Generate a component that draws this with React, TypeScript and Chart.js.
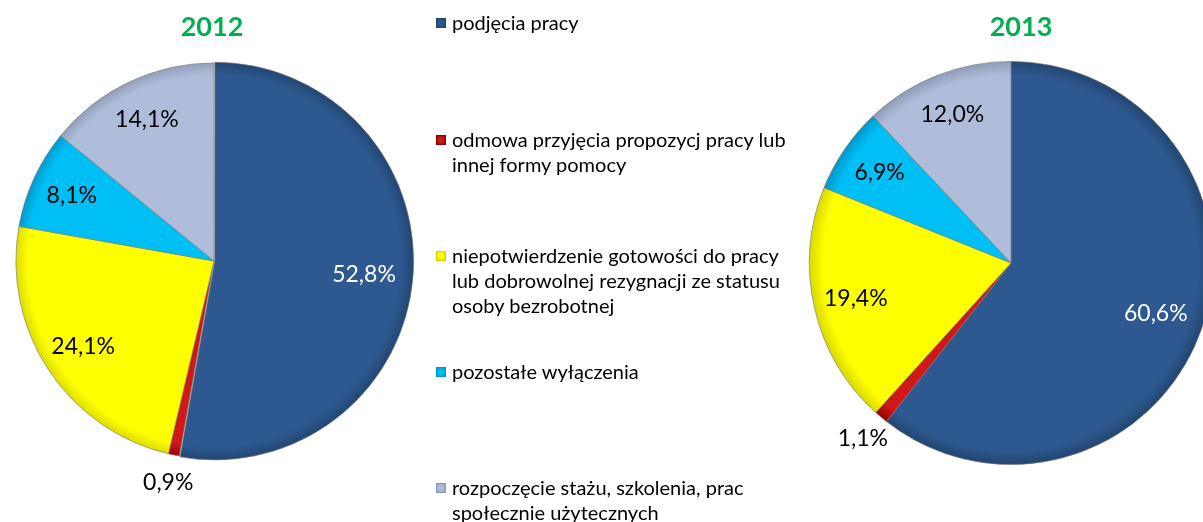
import React, { useEffect, useRef } from "react";
import { Chart, registerables } from "chart.js";

Chart.register(...registerables);

const categories = [
  "podjęcia pracy",
  "odmowa przyjęcia propozycj pracy lub innej formy pomocy",
  "niepotwierdzenie gotowości do pracy lub dobrowolnej rezygnacji ze statusu osoby bezrobotnej",
  "pozostałe wyłączenia",
  "rozpoczęcie stażu, szkolenia, prac społecznie użytecznych",
];
const values2012 = [52.8, 0.9, 24.1, 8.1, 14.1];
const values2013 = [60.6, 1.1, 19.4, 6.9, 12.0];
const years = ["2012", "2013"];

const baseColors = ["#2D5990", "#D01818", "#FFFF00", "#00BFF5", "#AFBDDA"];
const edgeColors = ["#22446F", "#900000", "#D8D800", "#0096C8", "#8E9BB6"];
const labelColors = ["#FFFFFF", "#000000", "#000000", "#000000", "#000000"];

const FONT = "Lato, 'Open Sans', sans-serif";

function fmt(v: number) {
  return v.toFixed(1).replace(".", ",") + "%";
}

const labelPlugin = {
  id: "sliceLabels",
  afterDatasetsDraw(chart: any) {
    const ctx = chart.ctx;
    const meta = chart.getDatasetMeta(0);
    const data = chart.data.datasets[0].data as number[];
    ctx.save();
    ctx.font = `23px ${FONT}`;
    ctx.textAlign = "center";
    ctx.textBaseline = "middle";
    meta.data.forEach((arc: any, i: number) => {
      const p = arc.getProps(["x", "y", "startAngle", "endAngle", "outerRadius"], true);
      const mid = (p.startAngle + p.endAngle) / 2;
      const small = data[i] < 3;
      const f = small ? 1.14 : i === 0 ? 0.76 : 0.79;
      const x = p.x + Math.cos(mid) * p.outerRadius * f;
      const y = p.y + Math.sin(mid) * p.outerRadius * f;
      ctx.fillStyle = small ? "#000000" : labelColors[i];
      ctx.fillText(fmt(data[i]), x, y);
    });
    ctx.restore();
  },
};

const titlePlugin = {
  id: "yearTitle",
  afterDraw(chart: any) {
    const opts = chart.options.plugins.yearTitle;
    if (!opts) return;
    const ctx = chart.ctx;
    ctx.save();
    ctx.font = `bold 27px ${FONT}`;
    ctx.fillStyle = "#00B050";
    ctx.textAlign = "center";
    ctx.textBaseline = "middle";
    ctx.fillText(opts.text, opts.x, opts.y);
    ctx.restore();
  },
};

function sliceBg(c: any) {
  const i = c.dataIndex ?? 0;
  const chart = c.chart;
  const area = chart.chartArea;
  if (!area) return baseColors[i];
  const cx = (area.left + area.right) / 2;
  const cy = (area.top + area.bottom) / 2;
  const r = Math.min(area.right - area.left, area.bottom - area.top) / 2;
  const g = chart.ctx.createRadialGradient(cx, cy, 0, cx, cy, r);
  g.addColorStop(0, baseColors[i]);
  g.addColorStop(0.93, baseColors[i]);
  g.addColorStop(1, edgeColors[i]);
  return g;
}

function PieChart(props: {
  values: number[];
  year: string;
  padding: { left: number; right: number; top: number; bottom: number };
  offsets: number[];
  titleX: number;
  width: number;
  left: number;
}) {
  const ref = useRef<HTMLCanvasElement | null>(null);
  useEffect(() => {
    if (!ref.current) return;
    const chart = new Chart(ref.current, {
      type: "pie",
      data: {
        labels: categories,
        datasets: [
          {
            data: props.values,
            backgroundColor: sliceBg as any,
            borderColor: "rgba(120,120,120,0.8)",
            borderWidth: 0.8,
            offset: props.offsets,
          },
        ],
      },
      options: {
        animation: false,
        responsive: false,
        maintainAspectRatio: false,
        layout: { padding: props.padding },
        plugins: {
          legend: { display: false },
          tooltip: { enabled: false },
          title: { display: false },
          yearTitle: { text: props.year, x: props.titleX, y: 27 },
        } as any,
      },
      plugins: [labelPlugin, titlePlugin],
    });
    return () => chart.destroy();
  }, []);
  return (
    <canvas
      ref={ref}
      width={props.width}
      height={522}
      style={{ position: "absolute", left: props.left, top: 0, width: props.width, height: 522 }}
    />
  );
}

function Marker({ i }: { i: number }) {
  return (
    <span
      style={{
        position: "absolute",
        left: 0,
        top: 8,
        width: 10,
        height: 10,
        background: `radial-gradient(circle, ${baseColors[i]} 40%, ${edgeColors[i]} 100%)`,
        border: `1px solid ${edgeColors[i]}`,
        boxSizing: "border-box",
      }}
    />
  );
}

export default function App() {
  const legendTops = [10, 127, 243, 359, 475];
  return (
    <div
      style={{
        position: "fixed",
        left: 0,
        top: 0,
        width: 1203,
        height: 522,
        overflow: "hidden",
        background: "#ffffff",
      }}
    >
      <PieChart
        values={values2012}
        year={years[0]}
        left={0}
        width={430}
        padding={{ left: 14, right: 16, top: 61, bottom: 61 }}
        offsets={[3, 0, 0, 0, 0]}
        titleX={212}
      />
      <PieChart
        values={values2013}
        year={years[1]}
        left={790}
        width={440}
        padding={{ left: 19, right: 17, top: 61, bottom: 57 }}
        offsets={[0, 0, 0, 0, 0]}
        titleX={231}
      />
      {categories.map((c, i) => (
        <div
          key={c}
          style={{
            position: "absolute",
            left: 436,
            top: legendTops[i],
            width: 356,
            paddingLeft: 16,
            boxSizing: "border-box",
            fontFamily: FONT,
            fontSize: 20,
            lineHeight: "25px",
            color: "#000000",
          }}
        >
          <Marker i={i} />
          {c}
        </div>
      ))}
    </div>
  );
}
